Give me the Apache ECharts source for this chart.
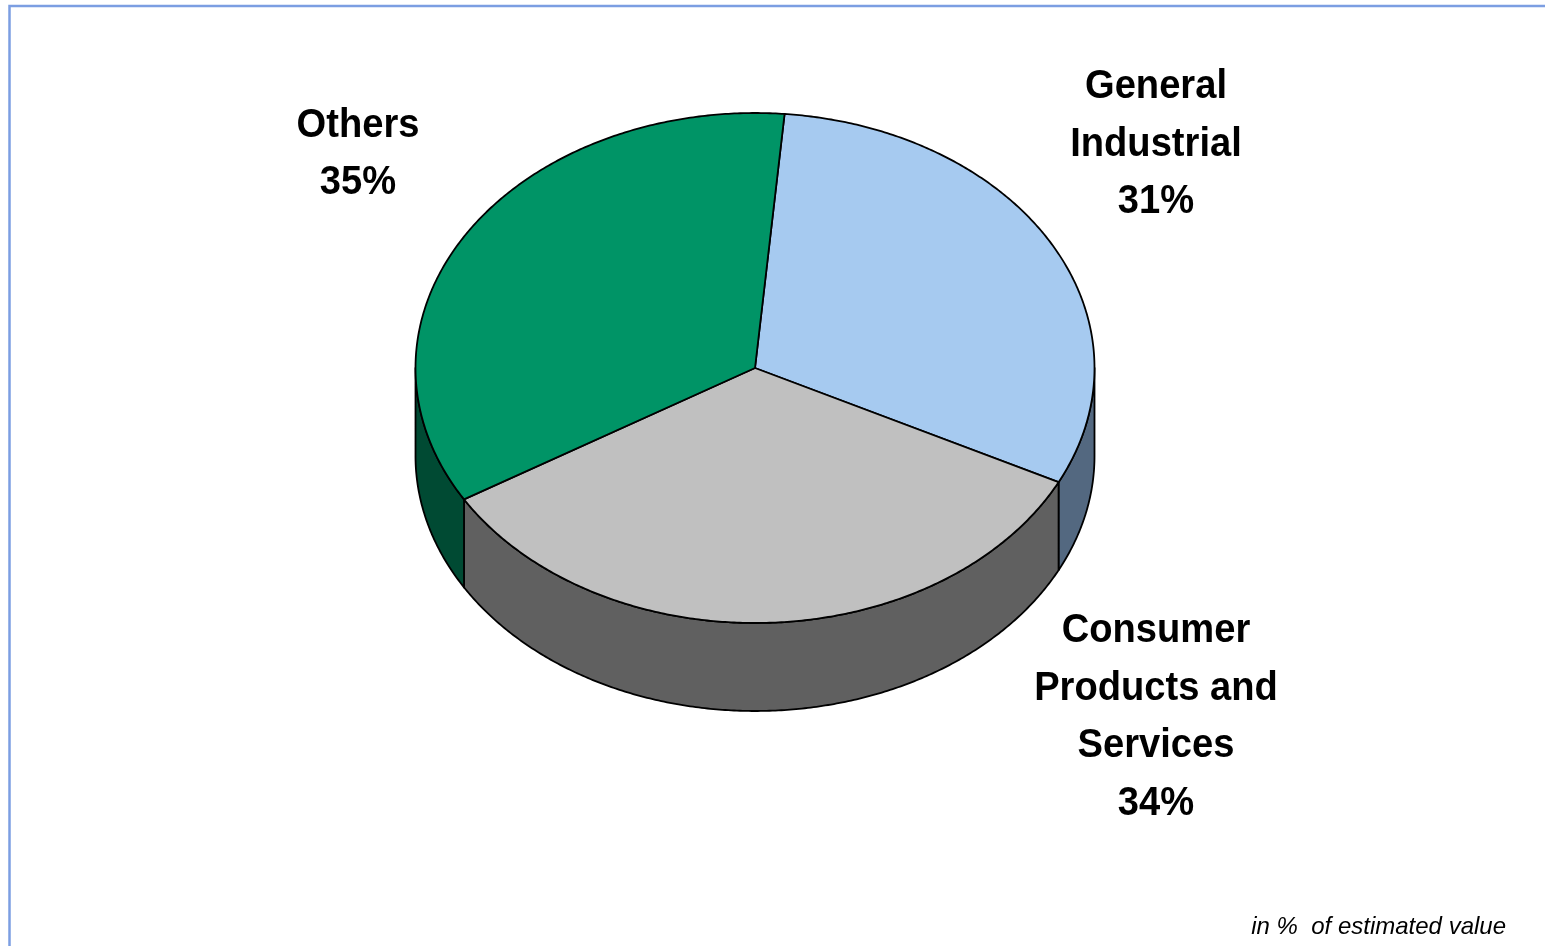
<!DOCTYPE html>
<html>
<head>
<meta charset="utf-8">
<style>html,body{margin:0;padding:0;background:#fff}#chart{width:1545px;height:946px}</style>
<script src="https://cdn.jsdelivr.net/npm/echarts@6/dist/echarts.min.js"></script>
</head>
<body>
<div id="chart"></div>
<script>
// Sector shares, in percent
const categories = ['General\nIndustrial', 'Consumer\nProducts and\nServices', 'Others'];
const shares = [31, 34, 35];
const topColors = ['#a6caf0', '#c0c0c0', '#009466'];
const wallColors = ['#536880', '#606060', '#004a33'];
const labelCenters = [[1156, 144.5], [1156, 717], [358, 154]];
const footnote = 'in %  of estimated value';

// Tilted disc geometry
const disc = { cx: 755, cy: 368, rx: 339.5, ry: 255, depth: 88, startDeg: 5 };
const total = shares.reduce((a, b) => a + b, 0);

function rimPoint(deg, drop) {
  const a = deg * Math.PI / 180;
  return [disc.cx + disc.rx * Math.sin(a), disc.cy - disc.ry * Math.cos(a) + drop];
}

function arc(fromDeg, toDeg, drop) {
  const pts = [];
  const n = Math.max(2, Math.ceil((toDeg - fromDeg) / 0.5));
  for (let i = 0; i <= n; i++) pts.push(rimPoint(fromDeg + (toDeg - fromDeg) * i / n, drop));
  return pts;
}

const edge = { stroke: '#000', lineWidth: 1.8, lineJoin: 'round' };

function renderSlice(params, api) {
  const i = params.dataIndex;
  let before = 0;
  for (let k = 0; k < i; k++) before += shares[k];
  const from = disc.startDeg + 360 * before / total;
  const to = from + 360 * api.value(0) / total;
  const children = [];

  // The wall is visible only along the front half of the rim (90deg to 270deg).
  const wallFrom = Math.max(from, 90);
  const wallTo = Math.min(to, 270);
  if (wallTo > wallFrom) {
    const pts = arc(wallFrom, wallTo, 0).concat(arc(wallFrom, wallTo, disc.depth).reverse());
    children.push({
      type: 'polygon', z2: 1,
      shape: { points: pts },
      style: Object.assign({ fill: wallColors[i] }, edge)
    });
  }
  children.push({
    type: 'polygon', z2: 2,
    shape: { points: [[disc.cx, disc.cy]].concat(arc(from, to, 0)) },
    style: Object.assign({ fill: topColors[i] }, edge)
  });
  children.push({
    type: 'text', z2: 3,
    x: labelCenters[i][0], y: labelCenters[i][1], scaleX: 0.93,
    style: {
      text: categories[i] + '\n' + api.value(0) + '%',
      fill: '#000',
      font: 'bold 41px "Liberation Sans", Arial, sans-serif',
      lineHeight: 57.5,
      textAlign: 'center',
      textVerticalAlign: 'middle'
    }
  });
  return { type: 'group', children };
}

const chart = echarts.init(document.getElementById('chart'), null, { renderer: 'canvas' });
chart.setOption({
  animation: false,
  backgroundColor: '#fff',
  series: [{
    type: 'custom',
    coordinateSystem: 'none',
    renderItem: renderSlice,
    encode: { value: 0 },
    data: shares.map(v => [v])
  }],
  graphic: [
    {
      type: 'polyline',
      shape: { points: [[9.5, 946], [9.5, 6], [1545, 6]] },
      style: { fill: null, stroke: '#7c9ee2', lineWidth: 2.5 }
    },
    {
      type: 'text', x: 1506, y: 927,
      style: {
        text: footnote,
        fill: '#000',
        font: 'italic 24px "Liberation Sans", Arial, sans-serif',
        textAlign: 'right',
        textVerticalAlign: 'middle'
      }
    }
  ]
});
</script>
</body>
</html>
